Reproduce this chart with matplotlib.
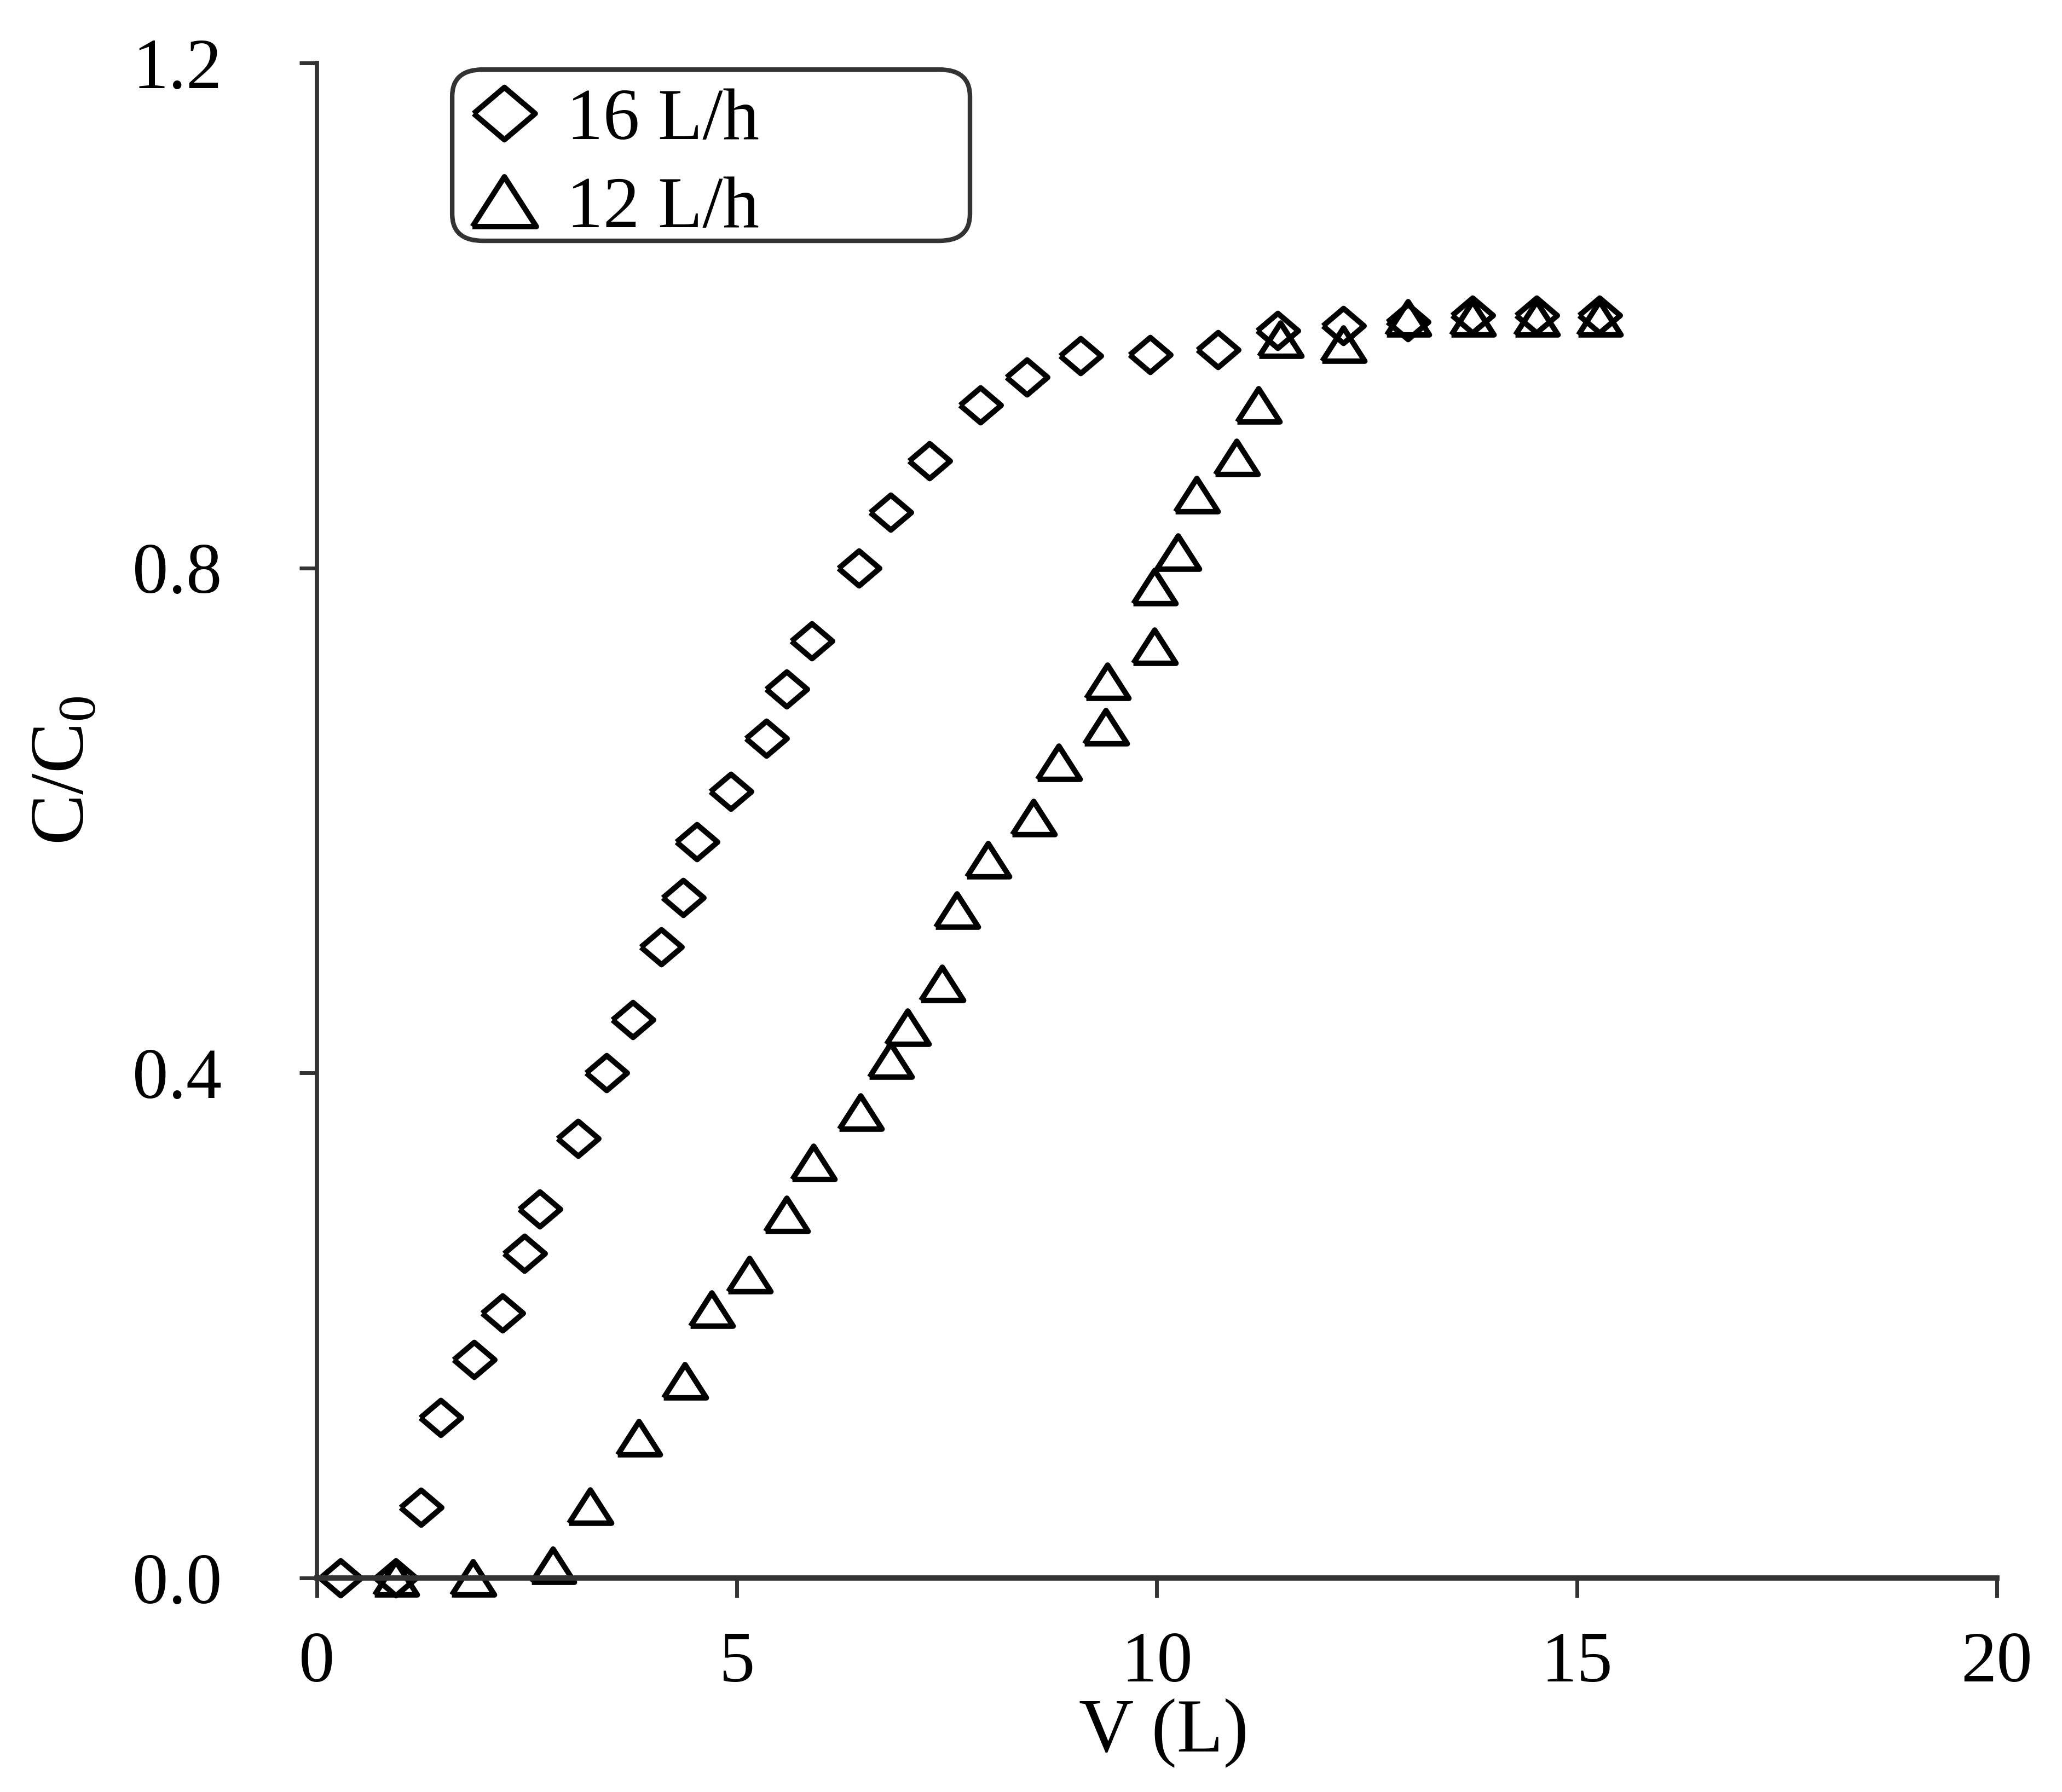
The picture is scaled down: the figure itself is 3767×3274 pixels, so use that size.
import matplotlib.pyplot as plt
from matplotlib.patches import FancyBboxPatch

plt.rcParams['font.family'] = ['Liberation Serif', 'DejaVu Serif']
plt.rcParams['mathtext.fontset'] = 'custom'
plt.rcParams['mathtext.rm'] = 'Liberation Serif'

# breakthrough data
v16 = [0.28, 0.94, 1.24, 1.47, 1.87, 2.21, 2.47, 2.65, 3.11, 3.45, 3.76, 4.10,
       4.36, 4.52, 4.93, 5.35, 5.59, 5.89, 6.45, 6.83, 7.29, 7.90, 8.45, 9.09,
       9.92, 10.73, 11.44, 12.22, 12.99, 13.76, 14.52, 15.27]
c16 = [0.0, 0.0, 0.056, 0.127, 0.173, 0.210, 0.257, 0.292, 0.348, 0.400, 0.442, 0.500,
       0.539, 0.583, 0.623, 0.665, 0.704, 0.742, 0.800, 0.844, 0.885, 0.929, 0.951, 0.968,
       0.969, 0.973, 0.988, 0.992, 0.995, 1.0, 1.0, 1.0]

v12 = [0.94, 1.86, 2.81, 3.25, 3.83, 4.38, 4.70, 5.15, 5.59, 5.91, 6.47, 6.83,
       7.03, 7.44, 7.62, 7.99, 8.53, 8.83, 9.39, 9.41, 9.97, 9.97, 10.25, 10.47,
       10.95, 11.21, 11.47, 12.22, 12.99, 13.76, 14.52, 15.27]
c12 = [0.0, 0.0, 0.010, 0.057, 0.111, 0.156, 0.213, 0.240, 0.288, 0.329, 0.369, 0.410,
       0.436, 0.471, 0.529, 0.569, 0.602, 0.646, 0.674, 0.710, 0.738, 0.785, 0.8125, 0.858,
       0.8875, 0.929, 0.981, 0.977, 0.998, 0.998, 0.998, 0.998]

labels = ['16 L/h', '12 L/h']
xticks = [0, 5, 10, 15, 20]
yticks = [0.0, 0.4, 0.8, 1.2]
ytick_labels = ['0.0', '0.4', '0.8', '1.2']

# slightly flattened marker shapes like the original
diamond = [(-1, 0), (0, 0.85), (1, 0), (0, -0.85), (-1, 0)]
triangle = [(-1, -0.78), (0, 0.78), (1, -0.78), (-1, -0.78)]

fig = plt.figure(figsize=(18.835, 16.37), dpi=200)
ax = fig.add_axes([0.1537, 0.1194, 0.8147, 0.8455])

ax.plot(v16, c16, linestyle='none', marker=diamond, markersize=27,
        markerfacecolor='none', markeredgecolor='black', markeredgewidth=3.6,
        clip_on=False, label=labels[0])
ax.plot(v12, c12, linestyle='none', marker=triangle, markersize=28,
        markerfacecolor='none', markeredgecolor='black', markeredgewidth=3.6,
        clip_on=False, label=labels[1])

ax.set_xlim(0, 20)
ax.set_ylim(0, 1.2)
ax.set_xticks(xticks)
ax.set_yticks(yticks)
ax.set_yticklabels(ytick_labels)

for side in ['top', 'right']:
    ax.spines[side].set_visible(False)
ax.spines['left'].set_linewidth(2.8)
ax.spines['bottom'].set_linewidth(3.5)
ax.spines['left'].set_color('#333333')
ax.spines['bottom'].set_color('#333333')

ax.tick_params(axis='y', direction='out', length=11.5, width=2.5, pad=51,
               labelsize=47, color='#333333', labelcolor='black')
ax.tick_params(axis='x', direction='out', length=13, width=2.5, pad=22,
               labelsize=47, color='#333333', labelcolor='black')

ax.set_xlabel('V (L)', fontsize=50)
ax.xaxis.set_label_coords(0.504, -0.0795)
ax.set_ylabel('C/C$_0$', fontsize=50)
ax.yaxis.set_label_coords(-0.129, 0.533)

box = FancyBboxPatch((0.2193, 0.8656), 0.2511, 0.0956,
                     boxstyle='round,pad=0,rounding_size=0.015',
                     transform=fig.transFigure, fill=False,
                     edgecolor='#333333', linewidth=3)
fig.add_artist(box)

ax.legend(loc='upper left', bbox_to_anchor=(0.2267, 0.951),
          bbox_transform=fig.transFigure, frameon=False, fontsize=48,
          markerscale=1.5, handlelength=1.0, handletextpad=0.36,
          labelspacing=0.3, borderpad=0, borderaxespad=0)

fig.savefig('out.png', dpi=200, facecolor='white')
